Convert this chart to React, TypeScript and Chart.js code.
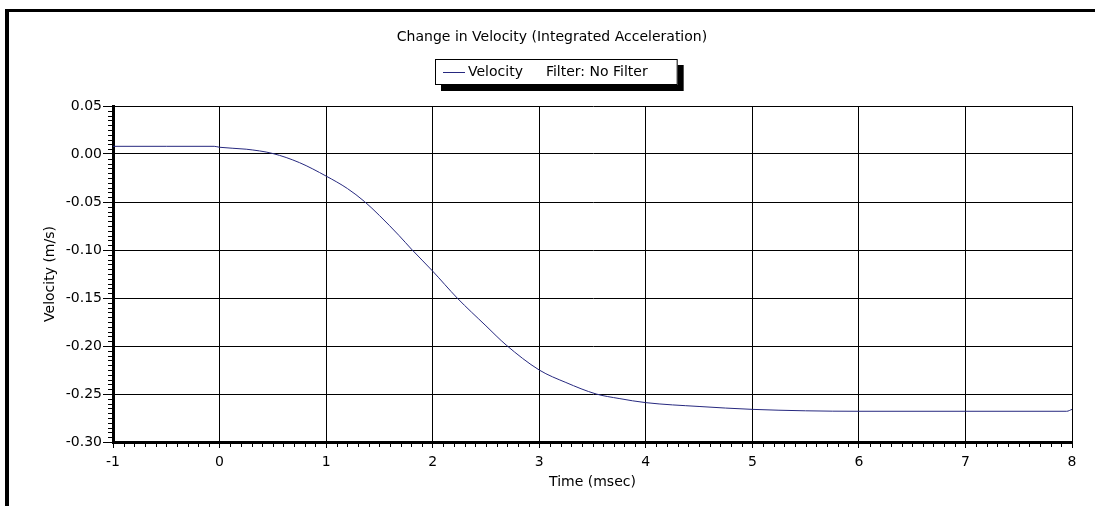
import React, { useEffect, useRef } from "react";
import { Chart, registerables } from "chart.js";

Chart.register(...registerables);

const chartTitle = "Change in Velocity (Integrated Acceleration)";
const seriesName = "Velocity";
const filterNote = "Filter: No Filter";
const xAxisTitle = "Time (msec)";
const yAxisTitle = "Velocity (m/s)";

const timeMs = [-1, -0.5, -0.05, 0, 0.25, 0.5, 0.75, 1.0, 1.2, 1.36, 1.5, 1.685, 1.8, 2.0, 2.23, 2.5, 2.69, 3.0, 3.25, 3.535, 3.75, 4.0, 4.5, 5.0, 5.5, 6.0, 7.0, 7.95, 8.0];
const velocity = [0.008, 0.008, 0.008, 0.007, 0.005, 0.0005, -0.009, -0.023, -0.036, -0.0495, -0.064, -0.085, -0.099, -0.122, -0.15, -0.179, -0.199, -0.225, -0.238, -0.25, -0.2547, -0.259, -0.263, -0.266, -0.2675, -0.268, -0.268, -0.268, -0.266];

const xMin = -1;
const xMax = 8;
const xStep = 1;
const xMinorStep = 0.1;
const yMin = -0.3;
const yMax = 0.05;
const yStep = 0.05;
const yMinorStep = 0.005;

const FONT = "'DejaVu Sans', sans-serif";
const LINE_COLOR = "#26287f";

const minorTicksPlugin = {
  id: "minorTicks",
  afterDraw(chart: any) {
    const { ctx, chartArea } = chart;
    const xs = chart.scales.x;
    const ys = chart.scales.y;
    ctx.save();
    ctx.strokeStyle = "#000";
    ctx.lineWidth = 1;
    ctx.beginPath();
    const nx = Math.round((xMax - xMin) / xMinorStep);
    for (let i = 0; i <= nx; i++) {
      if (i % 10 === 0) continue;
      const px = Math.round(xs.getPixelForValue(xMin + i * xMinorStep)) + 0.5;
      ctx.moveTo(px, chartArea.bottom + 1);
      ctx.lineTo(px, chartArea.bottom + 5);
    }
    const ny = Math.round((yMax - yMin) / yMinorStep);
    for (let i = 0; i <= ny; i++) {
      if (i % 10 === 0) continue;
      const py = Math.round(ys.getPixelForValue(yMin + i * yMinorStep)) + 0.5;
      ctx.moveTo(chartArea.left - 5, py);
      ctx.lineTo(chartArea.left, py);
    }
    ctx.stroke();
    ctx.restore();
  },
};

const boxLegendPlugin = {
  id: "boxLegend",
  afterDraw(chart: any) {
    const { ctx } = chart;
    const title = chart.titleBlock;
    ctx.save();
    ctx.font = `14px ${FONT}`;
    const w1 = ctx.measureText(seriesName).width;
    const w2 = ctx.measureText(filterNote).width;
    const padL = 8, lineLen = 22, gap1 = 3, gap2 = 23, padR = 30;
    const boxW = padL + lineLen + gap1 + w1 + gap2 + w2 + padR;
    const cx = (title.left + title.right) / 2 + 4;
    const cy = 72;
    const left = Math.round(cx - boxW / 2);
    const top = 59;
    const h = 26;
    const sh = 6;
    ctx.fillStyle = "#000";
    ctx.fillRect(left + sh, top + sh, boxW, h);
    ctx.fillStyle = "#fff";
    ctx.fillRect(left, top, boxW, h);
    ctx.strokeStyle = "#000";
    ctx.lineWidth = 1;
    ctx.strokeRect(left + 0.5, top + 0.5, boxW - 1, h - 1);
    ctx.strokeStyle = LINE_COLOR;
    ctx.beginPath();
    ctx.moveTo(left + padL, cy + 0.5);
    ctx.lineTo(left + padL + lineLen, cy + 0.5);
    ctx.stroke();
    ctx.fillStyle = "#000";
    ctx.textBaseline = "middle";
    ctx.textAlign = "left";
    ctx.fillText(seriesName, left + padL + lineLen + gap1, cy);
    ctx.fillText(filterNote, left + padL + lineLen + gap1 + w1 + gap2, cy);
    ctx.restore();
  },
};

export default function App() {
  const canvasRef = useRef<HTMLCanvasElement | null>(null);

  useEffect(() => {
    if (!canvasRef.current) return;
    Chart.defaults.font.family = FONT;
    Chart.defaults.font.size = 14;
    Chart.defaults.color = "#000";
    const points = timeMs.map((t, i) => ({ x: t, y: velocity[i] }));
    const chart = new Chart(canvasRef.current, {
      type: "line",
      data: {
        datasets: [
          {
            label: seriesName,
            data: points,
            borderColor: LINE_COLOR,
            borderWidth: 1,
            pointRadius: 0,
            fill: false,
            cubicInterpolationMode: "monotone",
          },
        ],
      },
      options: {
        responsive: false,
        animation: false,
        devicePixelRatio: 1,
        layout: { padding: { left: 32, right: 23, top: 0, bottom: 0 } },
        plugins: {
          legend: { display: false },
          tooltip: { enabled: false },
          title: {
            display: true,
            text: chartTitle,
            color: "#000",
            font: { family: FONT, size: 14, weight: "normal" },
            padding: { top: 29, bottom: 60.2 },
          },
        },
        scales: {
          x: {
            type: "linear",
            min: xMin,
            max: xMax,
            ticks: {
              stepSize: xStep,
              padding: 6,
              color: "#000",
              font: { family: FONT, size: 14 },
              callback: (v: any) => String(v),
              maxRotation: 0,
            },
            grid: { color: "#000", lineWidth: 1, tickLength: 6, tickColor: "#000" },
            border: { display: true, width: 3, color: "#000" },
            title: {
              display: true,
              text: xAxisTitle,
              color: "#000",
              font: { family: FONT, size: 14 },
              padding: { top: 0, bottom: 15 },
            },
            afterFit: (s: any) => {
              s.height = 64;
            },
          },
          y: {
            type: "linear",
            min: yMin,
            max: yMax,
            ticks: {
              stepSize: yStep,
              padding: 1,
              color: "#000",
              font: { family: FONT, size: 14 },
              callback: (v: any) => (Math.abs(v) < 1e-9 ? 0 : Number(v)).toFixed(2),
            },
            grid: { color: "#000", lineWidth: 1, tickLength: 10, tickColor: "#000" },
            border: { display: true, width: 3, color: "#000" },
            title: {
              display: true,
              text: yAxisTitle,
              color: "#000",
              font: { family: FONT, size: 14 },
              padding: { top: 10, bottom: 0 },
            },
            afterFit: (s: any) => {
              s.width = 81;
            },
          },
        },
      },
      plugins: [minorTicksPlugin, boxLegendPlugin],
    });
    return () => chart.destroy();
  }, []);

  return (
    <div
      style={{
        position: "absolute",
        left: 0,
        top: 0,
        width: 1095,
        height: 506,
        overflow: "hidden",
        background: "#fff",
      }}
    >
      <canvas ref={canvasRef} width={1095} height={506} style={{ display: "block" }} />
      <div
        style={{
          position: "absolute",
          left: 5,
          top: 9,
          width: 1200,
          height: 600,
          borderLeft: "4px solid #000",
          borderTop: "3px solid #000",
          pointerEvents: "none",
        }}
      />
    </div>
  );
}
